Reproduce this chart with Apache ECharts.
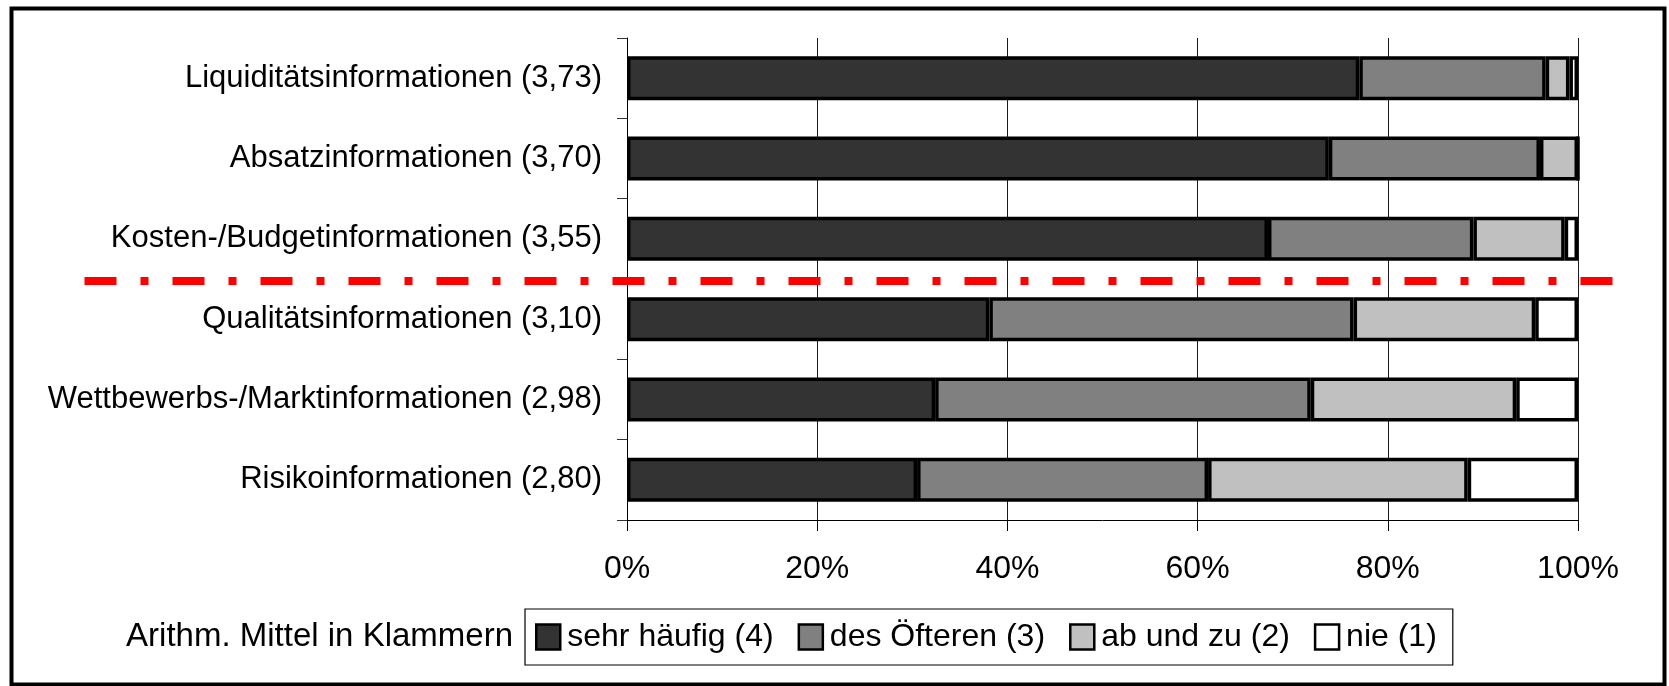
<!DOCTYPE html>
<html>
<head>
<meta charset="utf-8">
<title>Nutzung von Informationsarten</title>
<script src="https://cdn.jsdelivr.net/npm/echarts@6/dist/echarts.min.js"></script>
<style>
  html, body { margin: 0; padding: 0; background: #fff; }
  #chart { width: 1669px; height: 686px; }
</style>
</head>
<body>
<div id="chart"></div>
<script>
// Informationsarten mit arithmetischem Mittel (Skala 1-4)
const infoNames = [
  'Liquiditätsinformationen',
  'Absatzinformationen',
  'Kosten-/Budgetinformationen',
  'Qualitätsinformationen',
  'Wettbewerbs-/Marktinformationen',
  'Risikoinformationen'
];
const infoMeans = [3.73, 3.70, 3.55, 3.10, 2.98, 2.80];

// Anteile der Antworten in Prozent
const sehrHaeufig = [77.0, 73.8, 67.4, 38.1, 32.4, 30.5];
const desOefteren = [19.6, 22.2, 21.6, 38.3, 39.5, 30.6];
const abUndZu     = [2.5, 4.0, 9.6, 19.1, 21.6, 27.3];
const nie         = [0.9, 0.0, 1.4, 4.5, 6.5, 11.6];

const seriesNames = ['sehr häufig (4)', 'des Öfteren (3)', 'ab und zu (2)', 'nie (1)'];
const seriesColors = ['#333333', '#808080', '#c0c0c0', '#ffffff'];
const xTicks = [0, 20, 40, 60, 80, 100];

// Trennlinie nach der dritten Kategorie
const separatorAfter = 3;

const FONT = '"Liberation Sans", Arial, Helvetica, sans-serif';

const categories = infoNames.map((n, i) => n + ' (' + infoMeans[i].toFixed(2).replace('.', ',') + ')');
const seriesData = [sehrHaeufig, desOefteren, abUndZu, nie];

const chart = echarts.init(document.getElementById('chart'), null, { renderer: 'canvas' });

const option = {
  backgroundColor: '#ffffff',
  animation: false,
  textStyle: { fontFamily: FONT },
  grid: { left: 627, right: 91, top: 38, bottom: 166, containLabel: false },
  xAxis: {
    type: 'value',
    min: xTicks[0],
    max: xTicks[xTicks.length - 1],
    interval: xTicks[1] - xTicks[0],
    position: 'bottom',
    axisLine: { show: true, lineStyle: { color: '#000', width: 1 } },
    axisTick: { show: true, length: 11, lineStyle: { color: '#000', width: 1 } },
    axisLabel: {
      formatter: '{value}%',
      fontSize: 32,
      color: '#000',
      margin: 33,
      fontFamily: FONT
    },
    splitLine: { show: true, lineStyle: { color: '#1a1a1a', width: 1 } }
  },
  yAxis: {
    type: 'category',
    inverse: true,
    data: categories,
    axisLine: { show: true, lineStyle: { color: '#000', width: 1 } },
    axisTick: { show: true, length: 10, lineStyle: { color: '#333', width: 1 } },
    axisLabel: {
      fontSize: 31,
      color: '#000',
      margin: 25,
      fontFamily: FONT
    },
    splitLine: { show: false }
  },
  legend: {
    show: true,
    orient: 'horizontal',
    left: 525,
    top: 609,
    padding: [12, 16, 12, 10],
    itemGap: 24,
    itemWidth: 24,
    itemHeight: 25,
    icon: 'rect',
    borderColor: '#000',
    borderWidth: 1.2,
    selectedMode: false,
    itemStyle: { borderColor: '#000', borderWidth: 2.5 },
    textStyle: { fontSize: 32, color: '#000', fontFamily: FONT, lineHeight: 32, padding: [0, 0, 0, 2] },
    data: seriesNames
  },
  series: seriesNames.map((name, k) => ({
    name: name,
    type: 'bar',
    stack: 'anteil',
    barWidth: 44,
    data: seriesData[k],
    itemStyle: {
      color: seriesColors[k],
      borderColor: '#000',
      borderWidth: 3.5
    },
    emphasis: { disabled: true }
  })),
  graphic: []
};

chart.setOption(option);

// Rahmen, Hinweistext und gestrichelte Trennlinie
const yA = chart.convertToPixel({ yAxisIndex: 0 }, categories[separatorAfter - 1]);
const yB = chart.convertToPixel({ yAxisIndex: 0 }, categories[separatorAfter]);
const sepY = (yA + yB) / 2 + 2;

chart.setOption({
  graphic: [
    {
      type: 'rect',
      left: 9, top: 6,
      shape: { width: 1653, height: 676 },
      style: { fill: 'none', stroke: '#000', lineWidth: 4 },
      silent: true,
      z: 100
    },
    {
      type: 'text',
      x: 513, y: 637,
      style: {
        text: 'Arithm. Mittel in Klammern',
        fontSize: 33,
        fontFamily: FONT,
        fill: '#000',
        align: 'right',
        verticalAlign: 'middle'
      },
      silent: true
    },
    {
      type: 'line',
      shape: { x1: 84.5, y1: sepY, x2: 1612.5, y2: sepY },
      style: { stroke: '#ff0000', lineWidth: 8, lineDash: [32, 24, 8, 24] },
      silent: true,
      z: 100
    }
  ]
});
</script>
</body>
</html>
